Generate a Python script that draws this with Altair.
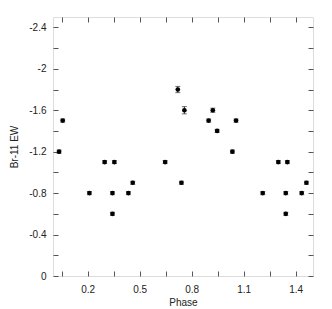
import altair as alt
import pandas as pd

phase = [0.035, 0.056, 0.21, 0.298, 0.343, 0.343, 0.354, 0.435, 0.46,
         0.647, 0.72, 0.741, 0.758, 0.898, 0.922, 0.947,
         1.035, 1.056, 1.21, 1.30, 1.343, 1.343, 1.352, 1.435, 1.462]
ew = [-1.2, -1.5, -0.8, -1.1, -0.8, -0.6, -1.1, -0.8, -0.9,
      -1.1, -1.8, -0.9, -1.6, -1.5, -1.6, -1.4,
      -1.2, -1.5, -0.8, -1.1, -0.8, -0.6, -1.1, -0.8, -0.9]
err = [0.015, 0.015, 0.015, 0.015, 0.015, 0.015, 0.015, 0.015, 0.015,
       0.015, 0.03, 0.015, 0.035, 0.015, 0.02, 0.015,
       0.015, 0.015, 0.015, 0.015, 0.015, 0.015, 0.015, 0.015, 0.015]

x_ticks = [0.05, 0.2, 0.35, 0.5, 0.65, 0.8, 0.95, 1.1, 1.25, 1.4]
y_ticks = [0, -0.2, -0.4, -0.6, -0.8, -1.0, -1.2, -1.4, -1.6, -1.8, -2.0, -2.2, -2.4]

df = pd.DataFrame({
    "phase": phase,
    "ew": ew,
    "lo": [v - e for v, e in zip(ew, err)],
    "hi": [v + e for v, e in zip(ew, err)],
})

FONT = "Liberation Sans"
AX = "#555555"
TXT = "#222222"

xs = alt.Scale(domain=[0, 1.5], nice=False, zero=False)
ys = alt.Scale(domain=[-2.5, 0], reverse=True, nice=False, zero=False)

common = dict(domain=False, grid=False, ticks=True, tickSize=5, offset=-5,
              tickColor=AX, tickWidth=1, labelFont=FONT, titleFont=FONT,
              labelColor=TXT, titleColor=TXT, labelFontSize=10, titleFontSize=10,
              titleFontWeight="normal")

top_axis = alt.Axis(orient="top", values=x_ticks, labels=False, **common)
right_axis = alt.Axis(orient="right", values=y_ticks, labels=False, **common)
bottom_axis = alt.Axis(orient="bottom", values=x_ticks, labelPadding=8,
                       labelExpr="round(datum.value*100) % 30 == 20 ? format(datum.value, '.1f') : ''",
                       titlePadding=3, **common)
left_axis = alt.Axis(orient="left", values=y_ticks, labelPadding=7,
                     labelExpr="round(datum.value*10) % 4 == 0 ? toString(datum.value) : ''",
                     titlePadding=9, **common)

bars = alt.Chart(df).mark_errorbar(ticks=True, size=5, thickness=1, color="#333333").encode(
    x=alt.X("phase:Q", scale=xs, axis=top_axis, title=None),
    y=alt.Y("lo:Q", scale=ys, axis=right_axis, title=None),
    y2="hi:Q",
)

points = alt.Chart(df).mark_circle(size=22, color="black", opacity=1).encode(
    x=alt.X("phase:Q", scale=xs, axis=bottom_axis, title="Phase"),
    y=alt.Y("ew:Q", scale=ys, axis=left_axis, title="Br-11 EW"),
)

chart = alt.layer(bars, points).resolve_scale(
    x="independent", y="independent"
).properties(
    width=260, height=259,
    autosize="none",
    padding={"left": 45, "top": 9, "right": 8, "bottom": 40},
).configure_view(stroke=AX, strokeWidth=1).configure(background="white")

chart.save("out.html", embed_options={"renderer": "svg", "actions": False})
